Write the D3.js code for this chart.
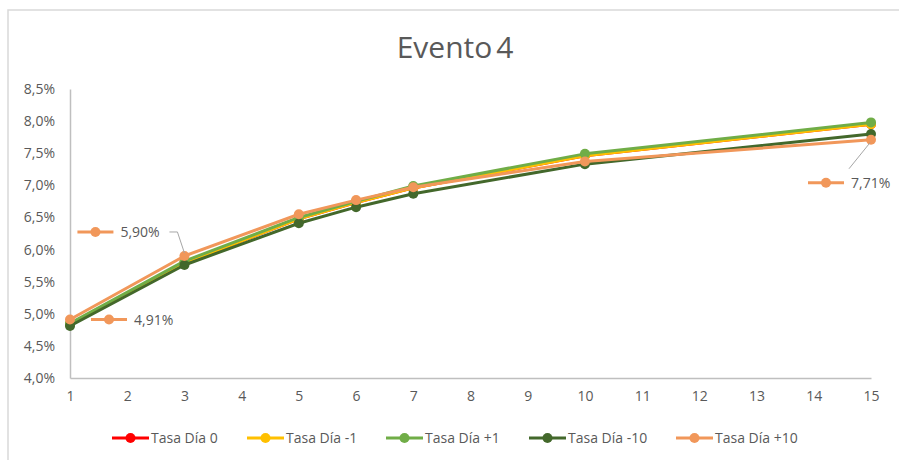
<!DOCTYPE html>
<html>
<head>
<meta charset="utf-8">
<script src="https://cdn.jsdelivr.net/npm/d3@7"></script>
<style>
  body { margin: 0; background: #fff; }
  text { font-family: "Open Sans", "Liberation Sans", sans-serif; }
</style>
</head>
<body>
<svg id="chart" width="899" height="460"></svg>
<script>
// data
const days = [1, 3, 5, 6, 7, 10, 15];
const tasaDia0 = [4.84, 5.79, 6.48, 6.73, 6.96, 7.46, 7.95];
const tasaDiaM1 = [4.84, 5.79, 6.48, 6.73, 6.96, 7.46, 7.95];
const tasaDiaP1 = [4.85, 5.82, 6.50, 6.75, 6.99, 7.49, 7.98];
const tasaDiaM10 = [4.81, 5.76, 6.41, 6.66, 6.87, 7.33, 7.80];
const tasaDiaP10 = [4.91, 5.90, 6.55, 6.77, 6.97, 7.37, 7.71];
const seriesNames = ["Tasa Día 0", "Tasa Día -1", "Tasa Día +1", "Tasa Día -10", "Tasa Día +10"];
const xTicks = d3.range(1, 16);
const yTicks = [4.0, 4.5, 5.0, 5.5, 6.0, 6.5, 7.0, 7.5, 8.0, 8.5];

const colors = ["#FF0000", "#FFC000", "#70AD47", "#43682B", "#F1975A"];
const allSeries = [tasaDia0, tasaDiaM1, tasaDiaP1, tasaDiaM10, tasaDiaP10];

const svg = d3.select("#chart");

// chart border
svg.append("rect")
  .attr("x", 8).attr("y", 10)
  .attr("width", 900).attr("height", 460)
  .attr("fill", "none")
  .attr("stroke", "#d9d9d9")
  .attr("stroke-width", 1.5);

svg.append("text")
  .text("Evento 4")
  .attr("x", 455).attr("y", 58)
  .attr("text-anchor", "middle")
  .attr("fill", "#595959")
  .style("font-size", "30px")
  .style("word-spacing", "-4px");

const x = d3.scaleLinear().domain([1, 15]).range([70, 871]);
const y = d3.scaleLinear().domain([4, 8.5]).range([378, 89]);

const fmt = v => d3.format(".1f")(v).replace(".", ",") + "%";

// y axis
const yAxis = svg.append("g")
  .attr("transform", "translate(70,0)")
  .call(d3.axisLeft(y).tickValues(yTicks).tickFormat(fmt).tickSize(0).tickPadding(15));
yAxis.select(".domain").attr("stroke", "#bfbfbf").attr("stroke-width", 1.5);
yAxis.selectAll("text").attr("fill", "#595959").style("font-size", "14px");

// x axis
const xAxis = svg.append("g")
  .attr("transform", "translate(0,378)")
  .call(d3.axisBottom(x).tickValues(xTicks).tickFormat(d3.format("d")).tickSize(0).tickPadding(13));
xAxis.select(".domain").attr("stroke", "#bfbfbf").attr("stroke-width", 1.5);
xAxis.selectAll("text").attr("fill", "#595959").style("font-size", "14px");

const line = d3.line()
  .x(d => x(d[0]))
  .y(d => y(d[1]));

allSeries.forEach((vals, i) => {
  const pts = days.map((d, j) => [d, vals[j]]);
  const g = svg.append("g");
  g.append("path")
    .datum(pts)
    .attr("d", line)
    .attr("fill", "none")
    .attr("stroke", colors[i])
    .attr("stroke-width", 3)
    .attr("stroke-linejoin", "round");
  g.selectAll("circle")
    .data(pts)
    .enter()
    .append("circle")
    .attr("cx", d => x(d[0]))
    .attr("cy", d => y(d[1]))
    .attr("r", 5)
    .attr("fill", colors[i]);
});

// data labels with legend key (Tasa Día +10)
const labelColor = colors[4];
const labels = [
  { idx: 0, dx: 21, dy: 0, leader: null },
  { idx: 1, dx: -107, dy: -24, leader: [[-15, -24], [-7, -24], [0, -3]] },
  { idx: 6, dx: -63, dy: 43, leader: [[-22, 29], [-1, 3]] }
];

labels.forEach(l => {
  const px = x(days[l.idx]);
  const py = y(tasaDiaP10[l.idx]);
  const lx = px + l.dx;
  const ly = py + l.dy;
  const g = svg.append("g");
  if (l.leader) {
    g.append("path")
      .attr("d", d3.line()(l.leader.map(p => [px + p[0], py + p[1]])))
      .attr("fill", "none")
      .attr("stroke", "#a6a6a6")
      .attr("stroke-width", 1);
  }
  g.append("line")
    .attr("x1", lx).attr("x2", lx + 36)
    .attr("y1", ly).attr("y2", ly)
    .attr("stroke", labelColor)
    .attr("stroke-width", 3);
  g.append("circle")
    .attr("cx", lx + 18).attr("cy", ly)
    .attr("r", 5)
    .attr("fill", labelColor);
  g.append("text")
    .text(d3.format(".2f")(tasaDiaP10[l.idx]).replace(".", ",") + "%")
    .attr("x", lx + 43).attr("y", ly + 5)
    .attr("fill", "#595959")
    .style("font-size", "14px");
});

// legend
const legendX = [112, 247, 386, 529, 676];
const legend = svg.append("g").attr("transform", "translate(0,438)");
seriesNames.forEach((name, i) => {
  const g = legend.append("g").attr("transform", `translate(${legendX[i]},0)`);
  g.append("line")
    .attr("x1", 0).attr("x2", 37)
    .attr("y1", 0).attr("y2", 0)
    .attr("stroke", colors[i])
    .attr("stroke-width", 3);
  g.append("circle")
    .attr("cx", 18.5).attr("cy", 0)
    .attr("r", 5)
    .attr("fill", colors[i]);
  g.append("text")
    .text(name)
    .attr("x", 39).attr("y", 5)
    .attr("fill", "#595959")
    .style("font-size", "14px");
});
</script>
</body>
</html>
